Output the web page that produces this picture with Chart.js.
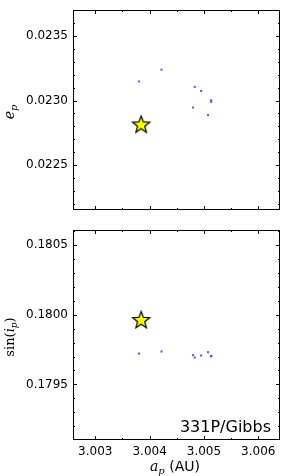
<!DOCTYPE html>
<html>
<head>
<meta charset="utf-8">
<script src="https://cdn.jsdelivr.net/npm/chart.js@4.4.1/dist/chart.umd.min.js"></script>
<style>
    html, body { margin: 0; padding: 0; background: #fff; }
    #wrap { width: 290px; height: 476px; position: relative; }
    canvas { position: absolute; left: 0; }
    #c1 { top: 0; }
    #c2 { top: 220px; }
</style>
</head>
<body>
<div id="wrap">
    <canvas id="c1" width="290" height="220"></canvas>
    <canvas id="c2" width="290" height="256"></canvas>
</div>
<script>
// Clone orbits (semi-major axis, eccentricity, sin inclination)
const aClones = [3.003803, 3.004219, 3.004830, 3.004949, 3.005130, 3.005135, 3.004799, 3.005076];
const eClones = [0.023148, 0.023239, 0.023106, 0.023074, 0.023002, 0.022990, 0.022946, 0.022887];
const sinClones = [0.179721, 0.179736, 0.179693, 0.179707, 0.179703, 0.179703, 0.179710, 0.179731];

// Nominal orbit (star)
const aNominal = [3.003844];
const eNominal = [0.022815];
const sinNominal = [0.179962];

// Axis ticks
const xTicks = [3.003, 3.004, 3.005, 3.006];
const eTicks = [0.0225, 0.0230, 0.0235];
const sinTicks = [0.1795, 0.1800, 0.1805];
const objectName = '331P/Gibbs';

const xRange = [3.00259, 3.00640];
const eRange = [0.022153, 0.023701];
const sinRange = [0.179102, 0.180606];

const tickFont = { family: "'DejaVu Sans', sans-serif", size: 12 };

function makeStar(r) {
    const s = Math.ceil(r * 2 + 4);
    const c = document.createElement('canvas');
    c.width = s; c.height = s;
    const g = c.getContext('2d');
    g.beginPath();
    for (let i = 0; i < 10; i++) {
        const rad = i % 2 ? r * 0.42 : r;
        const ang = -Math.PI / 2 + i * Math.PI / 5;
        g.lineTo(s / 2 + rad * Math.cos(ang), s / 2 + rad * Math.sin(ang) + 0.5);
    }
    g.closePath();
    g.fillStyle = '#ffff00';
    g.fill();
    g.lineWidth = 1.2;
    g.strokeStyle = '#000';
    g.stroke();
    return c;
}
const starImg = makeStar(9);

// Draws a run of text pieces: [text, font, dy]
function drawPieces(ctx, pieces, cx, cy, rotate) {
    ctx.save();
    ctx.translate(cx, cy);
    if (rotate) ctx.rotate(-Math.PI / 2);
    let total = 0;
    pieces.forEach(p => { ctx.font = p[1]; total += ctx.measureText(p[0]).width; });
    let x = -total / 2;
    ctx.fillStyle = '#000';
    ctx.textBaseline = 'alphabetic';
    pieces.forEach(p => {
        ctx.font = p[1];
        ctx.fillText(p[0], x, p[2]);
        x += ctx.measureText(p[0]).width;
    });
    ctx.restore();
}

const frame = {
    id: 'frame',
    afterDraw(chart, args, opts) {
        const { ctx, chartArea: a, scales } = chart;
        ctx.save();
        ctx.strokeStyle = '#000';
        ctx.lineWidth = 1;
        ctx.strokeRect(a.left + 0.5, a.top + 0.5, a.right - a.left - 1, a.bottom - a.top - 1);

        const marks = (scale, ticks, nMinor) => {
            const step = (ticks[1] - ticks[0]) / nMinor;
            const out = [];
            for (let k = -20 * nMinor; k <= 20 * nMinor; k++) {
                const v = ticks[0] + k * step;
                if (v < scale.min || v > scale.max) continue;
                out.push({ p: Math.round(scale.getPixelForValue(v)) + 0.5, major: k % nMinor === 0 });
            }
            return out;
        };
        ctx.beginPath();
        marks(scales.x, opts.xt, 2).forEach(m => {
            const len = m.major ? 4 : 2;
            ctx.moveTo(m.p, a.bottom); ctx.lineTo(m.p, a.bottom - len);
            ctx.moveTo(m.p, a.top); ctx.lineTo(m.p, a.top + len);
        });
        marks(scales.y, opts.yt, 5).forEach(m => {
            const len = m.major ? 4 : 2;
            ctx.moveTo(a.left, m.p); ctx.lineTo(a.left + len, m.p);
            ctx.moveTo(a.right, m.p); ctx.lineTo(a.right - len, m.p);
        });
        ctx.stroke();
        ctx.restore();
        if (opts.extra) opts.extra(ctx, a);
    }
};

function makeChart(id, yVals, yNom, yTicks, yRange, showX, frameOpts, padTop, padBottom) {
    return new Chart(document.getElementById(id), {
        type: 'scatter',
        data: {
            datasets: [{
                data: aClones.map((v, i) => ({ x: v, y: yVals[i] })),
                pointStyle: 'rect',
                pointRadius: 1.5,
                borderWidth: 0,
                backgroundColor: 'rgba(70, 70, 225, 0.85)'
            }, {
                data: aNominal.map((v, i) => ({ x: v, y: yNom[i] })),
                pointStyle: starImg,
                pointRadius: 9
            }]
        },
        options: {
            responsive: false,
            animation: false,
            layout: { padding: { left: 0, right: 7, top: padTop, bottom: padBottom } },
            plugins: { legend: { display: false }, tooltip: { enabled: false }, frame: frameOpts },
            scales: {
                x: {
                    type: 'linear',
                    display: showX,
                    min: xRange[0], max: xRange[1],
                    afterBuildTicks: s => { s.ticks = xTicks.map(v => ({ value: v })); },
                    afterFit: s => { s.height = showX ? 36 : 0; s.paddingLeft = 0; s.paddingRight = 0; },
                    grid: { display: false, drawTicks: false },
                    border: { display: false },
                    ticks: { font: tickFont, color: '#000', padding: 5, maxRotation: 0,
                             callback: v => v.toFixed(3) }
                },
                y: {
                    type: 'linear',
                    min: yRange[0], max: yRange[1],
                    afterBuildTicks: s => { s.ticks = yTicks.map(v => ({ value: v })); },
                    afterFit: s => { s.width = 73; s.paddingTop = 0; s.paddingBottom = 0; },
                    grid: { display: false, drawTicks: false },
                    border: { display: false },
                    ticks: { font: tickFont, color: '#000', padding: 5,
                             callback: v => v.toFixed(4) }
                }
            }
        },
        plugins: [frame]
    });
}

const serif = "'DejaVu Serif', serif";

makeChart('c1', eClones, eNominal, eTicks, eRange, false, {
    xt: xTicks, yt: eTicks,
    extra: (ctx, a) => {
        drawPieces(ctx, [
            ['e', 'italic 14px ' + serif, 0],
            ['p', 'italic 10px ' + serif, 3]
        ], 14, 112, true);
    }
}, 6, 1.5);

makeChart('c2', sinClones, sinNominal, sinTicks, sinRange, true, {
    xt: xTicks, yt: sinTicks,
    extra: (ctx, a) => {
        drawPieces(ctx, [
            ['sin(', '13px ' + serif, 0],
            ['i', 'italic 13px ' + serif, 0],
            ['p', 'italic 9px ' + serif, 3],
            [')', '13px ' + serif, 0]
        ], 14, 117, true);
        drawPieces(ctx, [
            ['a', 'italic 14px ' + serif, 0],
            ['p', 'italic 10px ' + serif, 3],
            [' (AU)', "14px 'DejaVu Sans', sans-serif", 0]
        ], 175, 251, false);
        ctx.save();
        ctx.font = "16px 'DejaVu Sans', sans-serif";
        ctx.fillStyle = '#000';
        ctx.textAlign = 'right';
        ctx.textBaseline = 'alphabetic';
        ctx.fillText(objectName, a.right - 9, a.bottom - 8);
        ctx.restore();
    }
}, 9, 0);
</script>
</body>
</html>
